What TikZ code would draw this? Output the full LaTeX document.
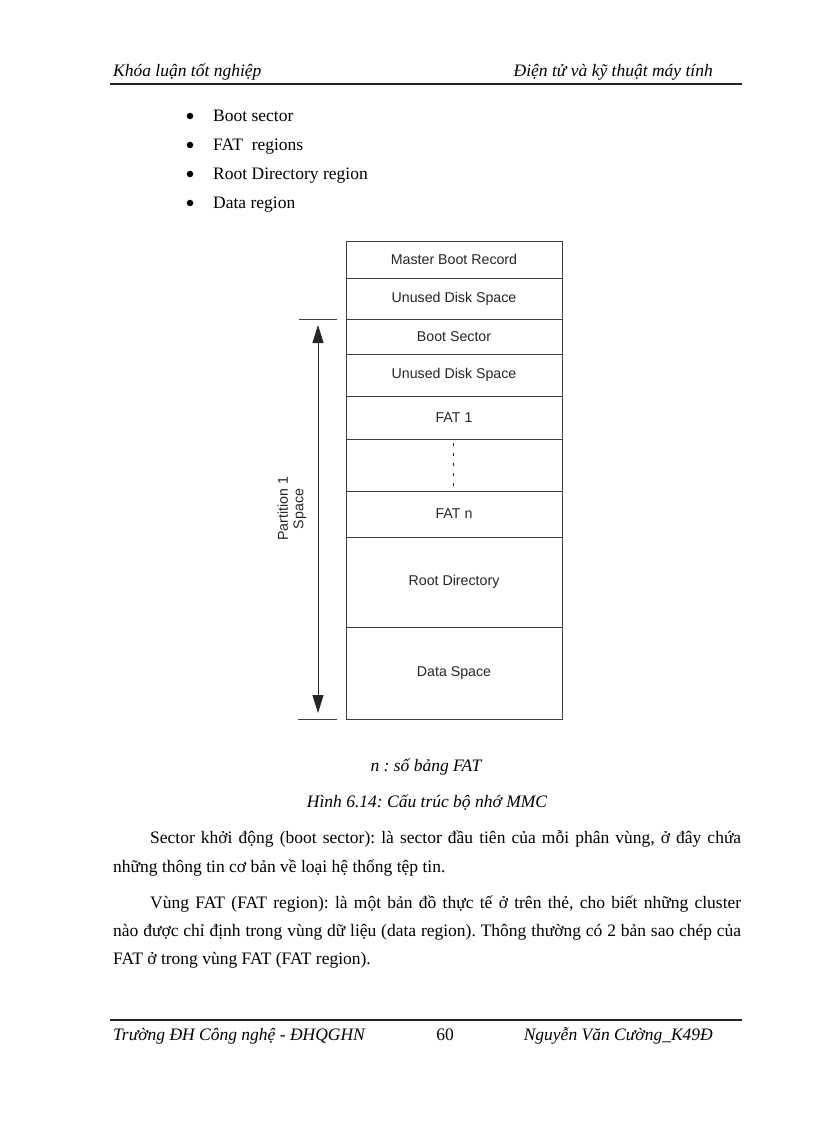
\documentclass[tikz,border=0pt]{standalone}
\usepackage{fontspec}
\setmainfont{Liberation Serif}
\newfontfamily\arialf{Liberation Sans}
\usetikzlibrary{arrows.meta}
\frenchspacing
\tikzset{
  bodytext/.style={anchor=base west, inner sep=0pt, font=\fontsize{17.5}{20}\selectfont\frenchspacing},
  itext/.style={inner sep=0pt, font=\fontsize{17.5}{20}\selectfont\itshape\frenchspacing},
  rulel/.style={line width=1.6pt, black!85},
  cell/.style={draw=black!75, line width=1pt, minimum width=216pt, inner sep=0pt, font=\arialf\fontsize{14.2}{16}\selectfont, text=black!85},
  tick/.style={draw=black!75, line width=1pt},
  dimarrow/.style={draw=black!85, line width=1pt, {Triangle[length=18pt,width=11pt]}-{Triangle[length=18pt,width=11pt]}},
  bulletn/.style={circle, fill=black, inner sep=0pt, minimum size=6.5pt},
}
\begin{document}
\begin{tikzpicture}[x=1pt,y=-1pt]
\useasboundingbox[fill=white] (0,0) rectangle (816,1123);
% header
\node[itext, anchor=base west] (hl) at (113,77) {Khóa luận tốt nghiệp};
\node[itext, anchor=base east] (hr) at (713,77) {Điện tử và kỹ thuật máy tính};
\coordinate (hrl) at (110,84); \coordinate (hrr) at (742,84);
\draw[rulel] (hrl) -- (hrr);
% bullets
\node[bulletn] (b1) at (190,116) {};
\node[bodytext] (t1) at (213,122) {Boot sector};
\node[bulletn] (b2) at (190,145) {};
\node[bodytext] (t2) at (213,151) {FAT\ \ regions};
\node[bulletn] (b3) at (190,174) {};
\node[bodytext] (t3) at (213,180) {Root Directory region};
\node[bulletn] (b4) at (190,203) {};
\node[bodytext] (t4) at (213,209) {Data region};
% diagram cells
\node[cell, minimum height=37pt] (mbr) at (454,259.5) {Master Boot Record};
\node[cell, minimum height=41pt] (un1) at (454,298.5) {Unused Disk Space};
\node[cell, minimum height=35pt] (bs) at (454,336.5) {Boot Sector};
\node[cell, minimum height=42pt] (un2) at (454,375) {Unused Disk Space};
\node[cell, minimum height=43pt] (fat1) at (454,417.5) {FAT 1};
\node[cell, minimum height=52pt] (dots) at (454,465) {};
\node[cell, minimum height=46pt] (fatn) at (454,514) {FAT n};
\node[cell, minimum height=90pt] (root) at (454,582) {Root Directory};
\node[cell, minimum height=92pt] (data) at (454,673) {Data Space};
\coordinate (d1) at (453,443); \coordinate (d2) at (453,488);
\draw[black!85, line width=1pt, dash pattern=on 3pt off 7pt] (d1) -- (d2);
% partition arrow
\coordinate (tk1a) at (299,319); \coordinate (tk1b) at (337,319);
\coordinate (tk2a) at (298,719); \coordinate (tk2b) at (337,719);
\draw[tick] (tk1a) -- (tk1b);
\draw[tick] (tk2a) -- (tk2b);
\coordinate (pa) at (318,325); \coordinate (pb) at (318,713);
\draw[dimarrow] (pa) -- (pb);
\node[rotate=90, align=center, inner sep=0pt, font=\arialf\fontsize{14.2}{15.5}\selectfont, text=black!85] (plabel) at (292,509) {Partition 1\\Space};
% captions
\node[itext, anchor=base] (cap1) at (426,771) {n : số bảng FAT};
\node[itext, anchor=base] (cap2) at (427,807) {Hình 6.14: Cấu trúc bộ nhớ MMC};
% paragraphs
\node[bodytext] (p1) at (150,843) {\makebox[591pt][s]{Sector khởi động (boot sector): là sector đầu tiên của mỗi phân vùng, ở đây chứa}};
\node[bodytext] (p2) at (113,872) {những thông tin cơ bản về loại hệ thống tệp tin.};
\node[bodytext] (p3) at (150,908) {\makebox[591pt][s]{Vùng FAT (FAT region): là một bản đồ thực tế ở trên thẻ, cho biết những cluster}};
\node[bodytext] (p4) at (113,936) {\makebox[628pt][s]{nào được chỉ định trong vùng dữ liệu (data region). Thông thường có 2 bản sao chép của}};
\node[bodytext] (p5) at (113,964) {FAT ở trong vùng FAT (FAT region).};
% footer
\coordinate (frl) at (110,1020); \coordinate (frr) at (742,1020);
\draw[rulel] (frl) -- (frr);
\node[itext, anchor=base west] (fl) at (113,1040) {Trường ĐH Công nghệ - ĐHQGHN};
\node[bodytext, anchor=base] (fc) at (445,1040) {60};
\node[itext, anchor=base east] (fr) at (713,1040) {Nguyễn Văn Cường\_K49Đ};
\end{tikzpicture}
\end{document}
